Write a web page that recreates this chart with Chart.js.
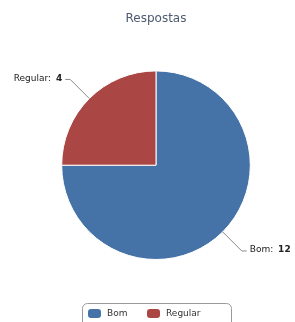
<!DOCTYPE html>
<html>
<head>
<meta charset="utf-8">
<script src="https://cdn.jsdelivr.net/npm/chart.js@4.4.0/dist/chart.umd.min.js"></script>
<style>
  html, body { margin: 0; padding: 0; background: #fff; }
  #wrap { width: 295px; height: 322px; }
</style>
</head>
<body>
<div id="wrap"><canvas id="pieChart" width="295" height="322"></canvas></div>
<script>
// dados
const categorias = ['Bom', 'Regular'];
const valores = [12, 4];
const cores = ['#4572A7', '#AA4643'];
const titulo = 'Respostas';

// labels com linha + legenda com caixa
const rotulos = {
  id: 'rotulos',
  afterDraw(chart) {
    const ctx = chart.ctx;
    const meta = chart.getDatasetMeta(0);
    ctx.save();
    meta.data.forEach((arc, i) => {
      const p = arc.getProps(['x', 'y', 'startAngle', 'endAngle', 'outerRadius'], true);
      const mid = (p.startAngle + p.endAngle) / 2;
      const cos = Math.cos(mid), sin = Math.sin(mid);
      const x0 = p.x + cos * p.outerRadius, y0 = p.y + sin * p.outerRadius;
      const x1 = p.x + cos * (p.outerRadius + 27), y1 = p.y + sin * (p.outerRadius + 27);
      const lado = cos >= 0 ? 1 : -1;
      const x2 = x1 + lado * 5;
      ctx.strokeStyle = '#8a8a8a';
      ctx.lineWidth = 1;
      ctx.beginPath();
      ctx.moveTo(x0, y0);
      ctx.lineTo(x1, y1);
      ctx.lineTo(x2, y1);
      ctx.stroke();

      const nome = categorias[i] + ': ';
      const valor = String(valores[i]);
      ctx.textBaseline = 'middle';
      ctx.fillStyle = '#222';
      ctx.font = '9px "DejaVu Sans"';
      const wNome = ctx.measureText(nome).width + 2;
      ctx.font = 'bold 9px "DejaVu Sans"';
      const wValor = ctx.measureText(valor).width;
      let tx = lado > 0 ? x2 + 3 : x2 - 3 - wNome - wValor;
      ctx.textAlign = 'left';
      ctx.font = '9px "DejaVu Sans"';
      ctx.fillText(nome, tx, y1 - 1);
      ctx.font = 'bold 9px "DejaVu Sans"';
      ctx.fillText(valor, tx + wNome, y1 - 1);
    });

    // legenda
    ctx.strokeStyle = '#9a9a9a';
    ctx.lineWidth = 1;
    ctx.beginPath();
    ctx.roundRect(82.5, 303.5, 149, 30, 5);
    ctx.stroke();
    const itens = [[88, 107], [147, 166]];
    categorias.forEach((c, i) => {
      ctx.fillStyle = cores[i];
      ctx.beginPath();
      ctx.roundRect(itens[i][0], 309, 13, 9, 3);
      ctx.fill();
      ctx.fillStyle = '#333';
      ctx.font = '9px "DejaVu Sans"';
      ctx.textAlign = 'left';
      ctx.textBaseline = 'middle';
      ctx.fillText(c, itens[i][1], 314);
    });
    ctx.restore();
  }
};

const ctx = document.getElementById('pieChart');

new Chart(ctx, {
  type: 'pie',
  data: {
    labels: categorias,
    datasets: [{
      data: valores,
      backgroundColor: cores,
      borderColor: '#ffffff',
      borderWidth: 1
    }]
  },
  options: {
    responsive: false,
    animation: false,
    layout: {
      padding: { left: 61, right: 44, top: 0, bottom: 62 }
    },
    plugins: {
      title: {
        display: true,
        text: titulo,
        color: '#4D5A70',
        font: { family: 'DejaVu Sans', size: 12, weight: 'normal' },
        padding: { top: 12, bottom: 44 }
      },
      legend: { display: false },
      tooltip: { enabled: false }
    }
  },
  plugins: [rotulos]
});
</script>
</body>
</html>
